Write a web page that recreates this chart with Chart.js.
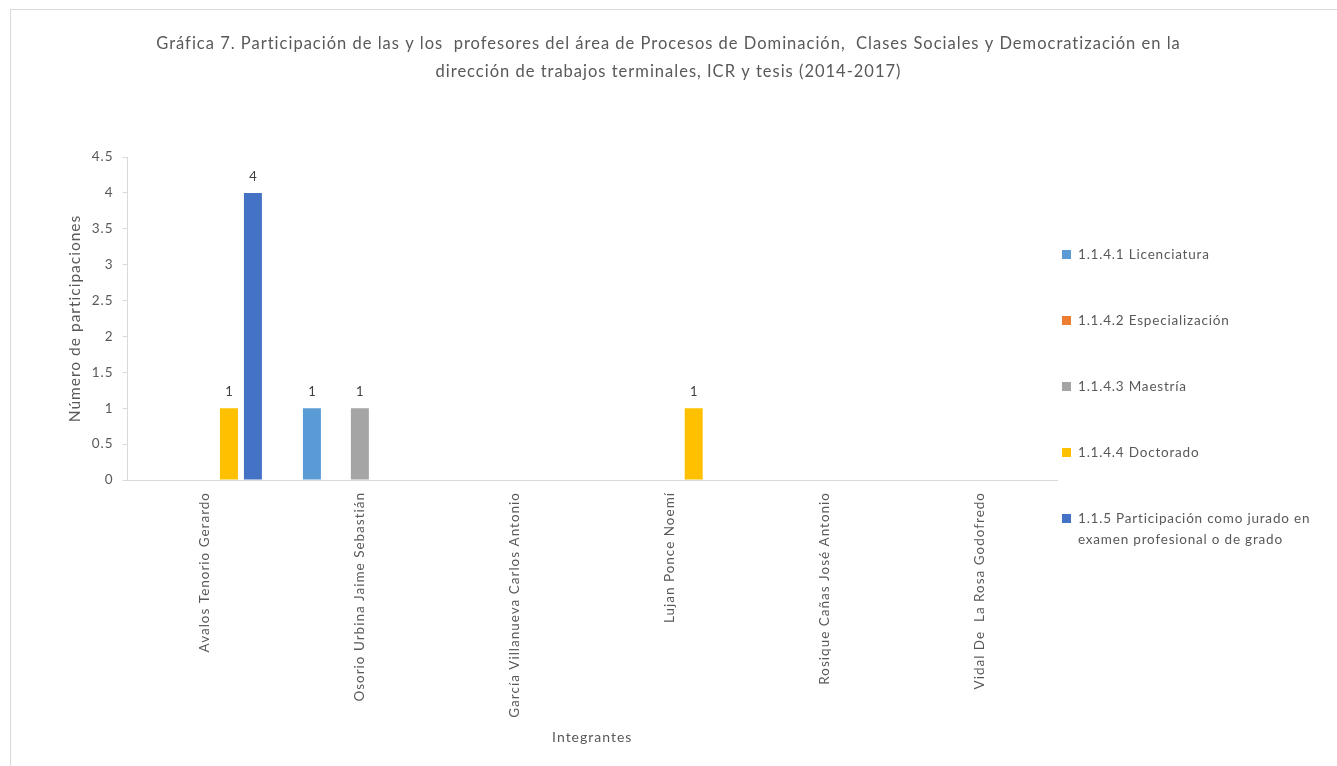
<!DOCTYPE html>
<html>
<head>
<meta charset="utf-8">
<script src="https://cdn.jsdelivr.net/npm/chart.js@4/dist/chart.umd.min.js"></script>
<style>
    html, body { margin: 0; padding: 0; background: #fff; }
    #wrap { position: relative; width: 1337px; height: 766px; overflow: hidden; }
    #frame { position: absolute; left: 10px; top: 9px; width: 1340px; height: 770px;
             border-left: 1px solid #d9d9d9; border-top: 1px solid #d9d9d9; box-sizing: border-box; }
    #ourChart { position: absolute; left: 0; top: 0; }
    #legend { position: absolute; left: 1062px; top: 0; font-family: Lato, sans-serif;
              font-size: 13.5px; letter-spacing: 0.8px; color: #595959; }
    .item { position: absolute; left: 0; width: 270px; line-height: 21px; padding-left: 16px; white-space: nowrap; }
    .box { position: absolute; left: 0; top: 6px; width: 9px; height: 9px; }
</style>
</head>
<body>
<div id="wrap">
    <div id="frame"></div>
    <canvas id="ourChart" width="1337" height="766"></canvas>
    <div id="legend"></div>
</div>
<script>
var categories = ["Avalos Tenorio Gerardo", "Osorio Urbina Jaime Sebastián", "García Villanueva Carlos Antonio",
    "Lujan Ponce Noemí", "Rosique Cañas José Antonio", "Vidal De  La Rosa Godofredo"];

var licenciatura = [0, 1, 0, 0, 0, 0];
var especializacion = [0, 0, 0, 0, 0, 0];
var maestria = [0, 1, 0, 0, 0, 0];
var doctorado = [1, 0, 0, 1, 0, 0];
var jurado = [4, 0, 0, 0, 0, 0];

var seriesNames = ["1.1.4.1 Licenciatura", "1.1.4.2 Especialización", "1.1.4.3 Maestría",
    "1.1.4.4 Doctorado", "1.1.5 Participación como jurado en|examen profesional o de grado"];
var seriesColors = ['#5B9BD5', '#ED7D31', '#A5A5A5', '#FFC000', '#4472C4'];

var yTicks = [0, 0.5, 1, 1.5, 2, 2.5, 3, 3.5, 4, 4.5];

var tickFont = { family: "Lato", size: 13.5 };

// el texto de Excel sale algo espaciado
var spacing = {
    id: 'spacing',
    beforeUpdate: function (chart) { chart.ctx.letterSpacing = '1px'; },
    beforeDraw: function (chart) { chart.ctx.letterSpacing = '1px'; }
};

// etiquetas de valor encima de cada barra (sin plugin externo)
var valueLabels = {
    id: 'valueLabels',
    afterDatasetsDraw: function (chart) {
        var ctx = chart.ctx;
        ctx.save();
        ctx.font = '13px Lato';
        ctx.fillStyle = '#404040';
        ctx.textAlign = 'center';
        ctx.textBaseline = 'bottom';
        chart.data.datasets.forEach(function (ds, i) {
            var meta = chart.getDatasetMeta(i);
            meta.data.forEach(function (bar, j) {
                var v = ds.data[j];
                if (!v) return;
                ctx.fillText(String(v), bar.x + 0.5, bar.y - 10);
            });
        });
        ctx.restore();
    }
};

var allData = [licenciatura, especializacion, maestria, doctorado, jurado];

var chartElement = new Chart(document.getElementById("ourChart"), {
    type: 'bar',
    data: {
        labels: categories,
        datasets: allData.map(function (d, i) {
            return {
                label: seriesNames[i].replace('|', ' '),
                data: d,
                backgroundColor: seriesColors[i],
                borderWidth: 0,
                categoryPercentage: 0.774,
                barPercentage: 0.75
            };
        })
    },
    options: {
        responsive: false,
        animation: false,
        layout: { padding: { left: 0, right: 0, bottom: 20, top: 0 } },
        plugins: {
            legend: { display: false },
            tooltip: { enabled: false },
            title: {
                display: true,
                text: ["Gráfica 7. Participación de las y los  profesores del área de Procesos de Dominación,  Clases Sociales y Democratización en la",
                       "dirección de trabajos terminales, ICR y tesis (2014-2017)"],
                color: '#595959',
                font: { family: "Lato", size: 16.5, weight: 'normal', lineHeight: '28px' },
                padding: { top: 30, bottom: 71 }
            }
        },
        scales: {
            x: {
                grid: { display: false },
                border: { color: '#d9d9d9' },
                ticks: { color: '#595959', font: tickFont, maxRotation: 90, minRotation: 90, padding: 4 },
                title: {
                    display: true, text: 'Integrantes', color: '#595959',
                    font: { family: "Lato", size: 14 }, padding: 0
                },
                afterFit: function (scale) { scale.height = 266; }
            },
            y: {
                min: 0,
                max: 4.5,
                grid: { display: true, drawOnChartArea: false, drawTicks: true, tickLength: 5, color: '#d9d9d9' },
                border: { color: '#d9d9d9' },
                afterBuildTicks: function (scale) {
                    scale.ticks = yTicks.map(function (v) { return { value: v }; });
                },
                ticks: {
                    color: '#595959', font: tickFont, padding: 9,
                    callback: function (v) { return String(v); }
                },
                title: {
                    display: true, text: 'Número de participaciones', color: '#595959',
                    font: { family: "Lato", size: 15.5 }, padding: { top: 66, bottom: 0 }
                },
                afterFit: function (scale) { scale.width = 127.5; }
            },
            // espacio reservado a la derecha para la leyenda
            derecha: {
                position: 'right',
                grid: { display: false },
                border: { display: false },
                ticks: { display: false },
                afterFit: function (scale) { scale.width = 280; }
            }
        }
    },
    plugins: [spacing, valueLabels]
});

// leyenda a la derecha, como en el original
var legendTops = [244, 310, 376, 442, 508];
var legendEl = document.getElementById("legend");
seriesNames.forEach(function (name, i) {
    var item = document.createElement("div");
    item.className = "item";
    item.style.top = legendTops[i] + "px";
    var box = document.createElement("span");
    box.className = "box";
    box.style.background = seriesColors[i];
    item.appendChild(box);
    name.split('|').forEach(function (line, k) {
        if (k > 0) item.appendChild(document.createElement("br"));
        item.appendChild(document.createTextNode(line));
    });
    legendEl.appendChild(item);
});
</script>
</body>
</html>
